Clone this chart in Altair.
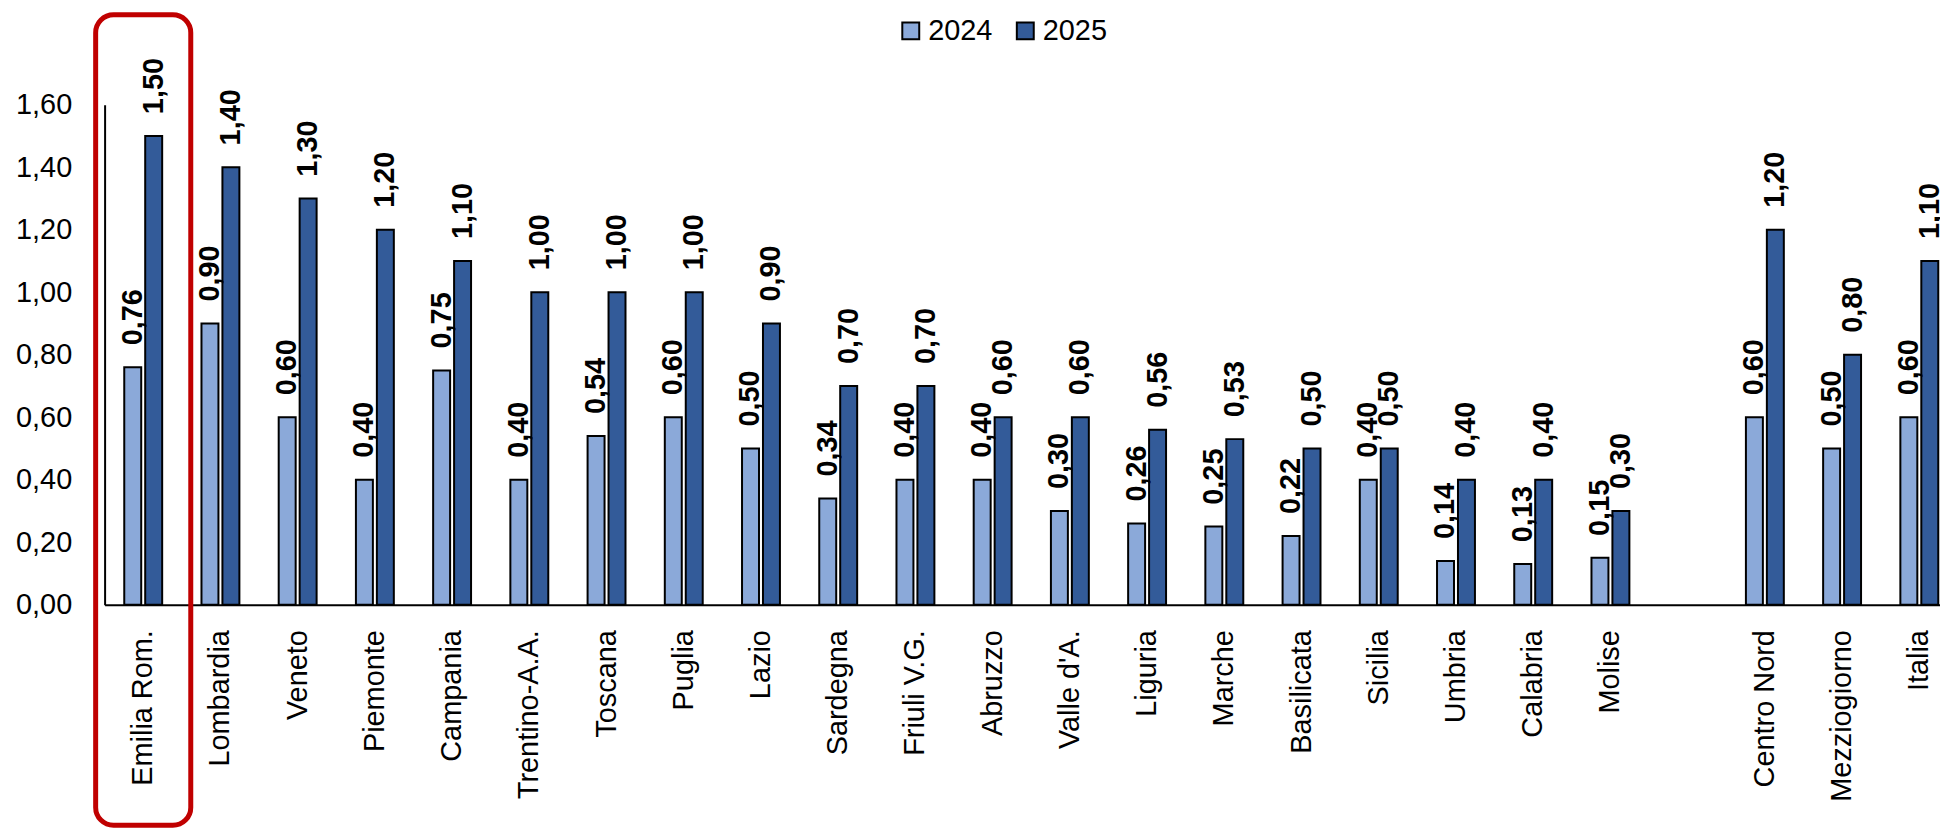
import altair as alt
import pandas as pd

regions = ["Emilia Rom.", "Lombardia", "Veneto", "Piemonte", "Campania", "Trentino-A.A.",
           "Toscana", "Puglia", "Lazio", "Sardegna", "Friuli V.G.", "Abruzzo", "Valle d'A.",
           "Liguria", "Marche", "Basilicata", "Sicilia", "Umbria", "Calabria", "Molise",
           "Centro Nord", "Mezziogiorno", "Italia"]
v2024 = [0.76, 0.90, 0.60, 0.40, 0.75, 0.40, 0.54, 0.60, 0.50, 0.34, 0.40, 0.40, 0.30,
         0.26, 0.25, 0.22, 0.40, 0.14, 0.13, 0.15, 0.60, 0.50, 0.60]
v2025 = [1.50, 1.40, 1.30, 1.20, 1.10, 1.00, 1.00, 1.00, 0.90, 0.70, 0.70, 0.60, 0.60,
         0.56, 0.53, 0.50, 0.50, 0.40, 0.40, 0.30, 1.20, 0.80, 1.10]
years = ["2024", "2025"]
colors = ["#8BA9D9", "#335B99"]
y_ticks = [0, 0.2, 0.4, 0.6, 0.8, 1.0, 1.2, 1.4, 1.6]

# order on the axis, with an empty slot between regions and macro areas
x_order = regions[:20] + [" "] + regions[20:]

# highlighted region (box drawn around it)
highlight = ["Emilia Rom."]
highlight_top = [1.888]
highlight_bottom = [-0.706]

rows = []
for r, a, b in zip(regions, v2024, v2025):
    rows.append({"regione": r, "anno": years[0], "valore": a})
    rows.append({"regione": r, "anno": years[1], "valore": b})
df = pd.DataFrame(rows)

hl = pd.DataFrame({"regione": highlight, "top": highlight_top, "bottom": highlight_bottom})

FONT = "Liberation Sans, Arial, sans-serif"
FS = 29

x_scale = alt.Scale(domain=x_order, range=[0, 1861], paddingInner=0.509, paddingOuter=0.2545)
y_scale = alt.Scale(domain=[0, 1.6], nice=False, zero=True)
off_scale = alt.Scale(paddingInner=0.19, paddingOuter=0)

x_enc = alt.X("regione:N", scale=x_scale, sort=x_order,
              axis=alt.Axis(title=None, labelAngle=-90, ticks=False, labelPadding=25,
                            labelFontSize=FS, labelFont=FONT, labelColor="black",
                            domainColor="black", domainWidth=2, labelLimit=400,
                            labelOverlap=False, grid=False))
y_enc = alt.Y("valore:Q", scale=y_scale,
              axis=alt.Axis(title=None, values=y_ticks, grid=False, ticks=False,
                            labelPadding=33, labelFontSize=FS, labelFont=FONT,
                            labelColor="black", domainColor="black", domainWidth=2,
                            labelOverlap=False,
                            labelExpr="replace(format(datum.value, '.2f'), '.', ',')"))

bars = alt.Chart(df).mark_bar(stroke="black", strokeWidth=2, clip=False).encode(
    x=x_enc,
    xOffset=alt.XOffset("anno:N", sort=years, scale=off_scale),
    y=y_enc,
    color=alt.Color("anno:N", sort=years,
                    scale=alt.Scale(domain=years, range=colors),
                    legend=alt.Legend(title=None, orient="none", direction="horizontal",
                                      legendX=795, legendY=-89, padding=0,
                                      symbolType="square", symbolSize=289,
                                      symbolStrokeColor="black", symbolStrokeWidth=2,
                                      symbolOpacity=1,
                                      labelFontSize=FS, labelFont=FONT, labelColor="black",
                                      labelOffset=3, columnPadding=18)),
)

labels = alt.Chart(df).transform_calculate(
    lab="replace(format(datum.valore, '.2f'), '.', ',')"
).mark_text(angle=270, align="left", baseline="middle", dx=22, fontSize=FS,
            fontWeight="bold", font=FONT, color="black", clip=False).encode(
    x=alt.X("regione:N", scale=x_scale, sort=x_order),
    xOffset=alt.XOffset("anno:N", sort=years, scale=off_scale),
    y=alt.Y("valore:Q", scale=y_scale),
    text="lab:N",
)

box = alt.Chart(hl).mark_bar(width=95.5, fillOpacity=0, stroke="#C00000",
                             strokeWidth=5, cornerRadius=18, clip=False).encode(
    x=alt.X("regione:N", scale=x_scale, sort=x_order),
    y=alt.Y("top:Q", scale=y_scale),
    y2="bottom:Q",
)

chart = alt.layer(bars, labels, box).properties(
    width=1843, height=502,
    background="white",
    autosize=alt.AutoSizeParams(type="none"),
    padding={"left": 97, "top": 95.5, "right": 0, "bottom": 224},
).configure_view(stroke="transparent", strokeWidth=0).configure_axis(grid=False)

chart.save("out.html", embed_options={"renderer": "svg", "actions": False})
